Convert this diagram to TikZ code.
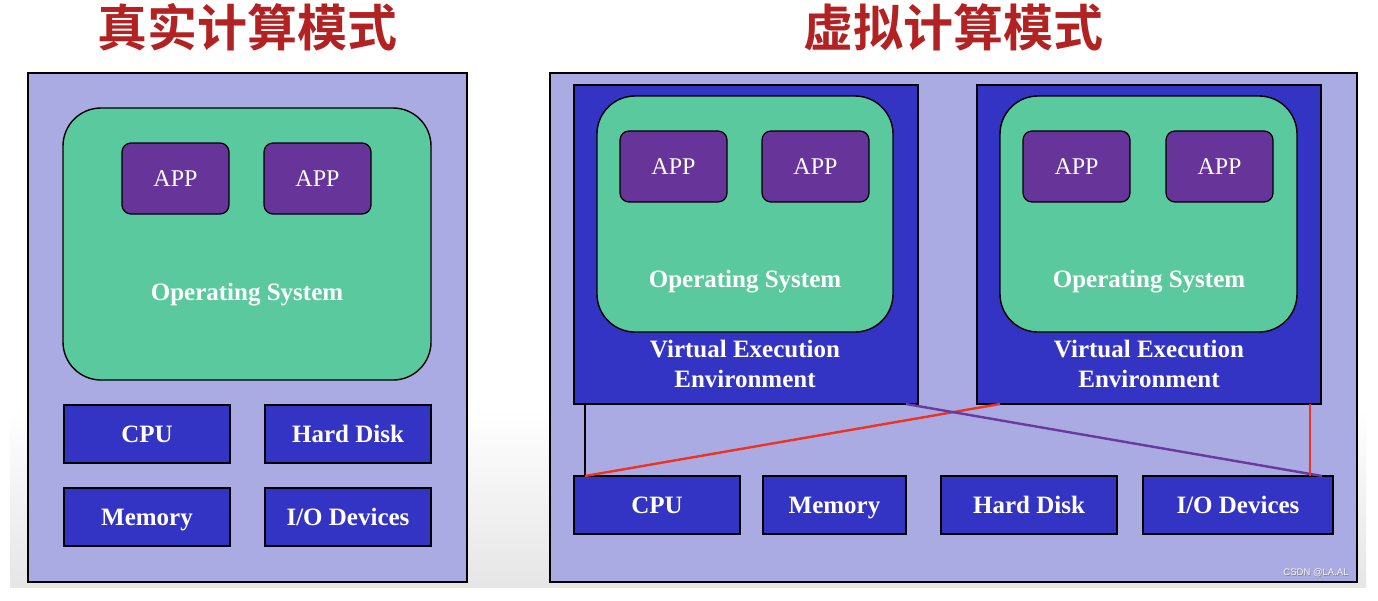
\documentclass[tikz,border=0pt]{standalone}
\usepackage{fontspec}
\setmainfont{Liberation Serif}
\newfontfamily\cjk{Noto Sans CJK SC}[BoldFont={* Bold}]
\newfontfamily\wmfont{Liberation Sans}
\definecolor{lav}{HTML}{ABABE3}
\definecolor{osgreen}{HTML}{5BC99E}
\definecolor{apppurple}{HTML}{673499}
\definecolor{hwblue}{HTML}{3333C4}
\definecolor{titlered}{HTML}{B22222}
\definecolor{linered}{HTML}{EE3322}
\definecolor{linepurple}{HTML}{6A3A9E}
\tikzset{
  x=1pt, y=-1pt,
  panel/.style={draw=black, line width=1.6pt, fill=lav},
  osbox/.style={draw=black, line width=1.4pt, fill=osgreen, rounded corners=38pt},
  appbox/.style={draw=black, line width=1.2pt, fill=apppurple, rounded corners=9pt, text=white, font=\fontsize{24}{26}\selectfont, text height=16pt, text depth=0pt},
  hwbox/.style={draw=black, line width=1.6pt, fill=hwblue, text=white, font=\bfseries\fontsize{25}{27}\selectfont, text height=16pt, text depth=0pt},
  veebox/.style={draw=black, line width=1.6pt, fill=hwblue},
  lbl/.style={text=white, font=\bfseries\fontsize{25}{30}\selectfont, align=center},
  title/.style={text=titlered, font=\cjk\bfseries\fontsize{50}{54}\selectfont},
  wmark/.style={font=\wmfont\fontsize{9.5}{10}\selectfont},
}
\begin{document}
\begin{tikzpicture}
\useasboundingbox (0,0) rectangle (1378,600);
\fill[white] (0,0) rectangle (1378,600);
\shade[top color=white, bottom color=black!10] (10,410) rectangle (1366,587);
% titles
\node[title] (t1) at (247,27) {真实计算模式};
\node[title] (t2) at (953,27) {虚拟计算模式};
% left panel
\draw[panel] (28,73) rectangle (467,582);
\draw[osbox] (63,108) rectangle (431,380);
\node[lbl] (os1) at (247,295) {Operating System};
\draw[appbox] (122,143) rectangle node (a1) {APP} (229,214);
\draw[appbox] (264,143) rectangle node (a2) {APP} (371,214);
\draw[hwbox] (64,405) rectangle node (cpuL) {CPU} (230,463);
\draw[hwbox] (265,405) rectangle node (hdL) {Hard Disk} (431,463);
\draw[hwbox] (64,488) rectangle node (memL) {Memory} (230,546);
\draw[hwbox] (265,488) rectangle node (ioL) {I/O Devices} (431,546);
% right panel
\draw[panel] (550,73) rectangle (1357,582);
% VEE 1
\draw[veebox] (574,85) rectangle (918,404);
\coordinate (v1sw) at (585,404);
\coordinate (v1se) at (906,404);
\draw[osbox] (597,96) rectangle (893,332);
\node[lbl] (os2) at (745,282) {Operating System};
\node[lbl] (vee1) at (745,364) {Virtual Execution\\Environment};
\draw[appbox] (620,131) rectangle node (a3) {APP} (727,202);
\draw[appbox] (762,131) rectangle node (a4) {APP} (869,202);
% VEE 2
\draw[veebox] (977,85) rectangle (1321,404);
\coordinate (v2sw) at (1000,404);
\coordinate (v2se) at (1310,404);
\draw[osbox] (1000,96) rectangle (1297,332);
\node[lbl] (os3) at (1149,282) {Operating System};
\node[lbl] (vee2) at (1149,364) {Virtual Execution\\Environment};
\draw[appbox] (1023,131) rectangle node (a5) {APP} (1130,202);
\draw[appbox] (1166,131) rectangle node (a6) {APP} (1273,202);
% hardware
\draw[hwbox] (574,476) rectangle node (cpuR) {CPU} (740,534);
\draw[hwbox] (763,476) rectangle node (memR) {Memory} (906,534);
\draw[hwbox] (941,476) rectangle node (hdR) {Hard Disk} (1117,534);
\draw[hwbox] (1143,476) rectangle node (ioR) {I/O Devices} (1333,534);
\coordinate (cpuT) at (585,476);
\coordinate (ioT) at (1322,476);
\coordinate (ioT2) at (1310,476);
% connectors
\draw[black, line width=1.6pt] (v1sw) -- (cpuT);
\draw[linered, line width=2.4pt] (v2sw) -- (cpuT);
\draw[linepurple, line width=2.4pt] (v1se) -- (ioT);
\draw[linered, line width=2pt] (v2se) -- (ioT2);
% watermark
\node[wmark, text=black!50] (wms) at (1316.8,573.8) {CSDN @LA.AL};
\node[wmark, text=white!90!lav] (wm) at (1316,573) {CSDN @LA.AL};
\end{tikzpicture}
\end{document}
